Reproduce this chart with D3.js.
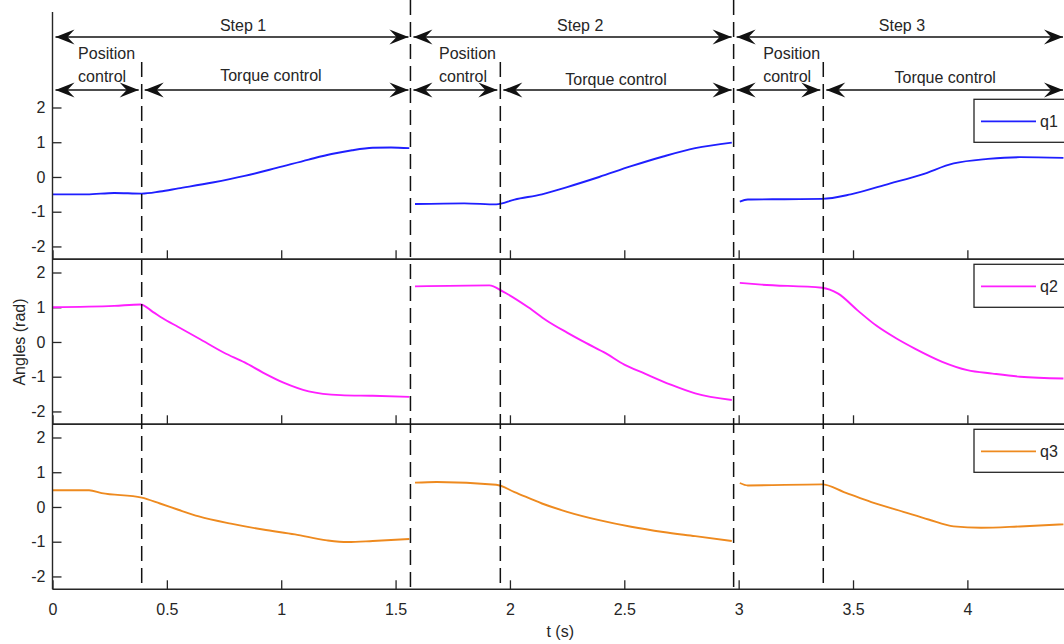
<!DOCTYPE html>
<html>
<head>
<meta charset="utf-8">
<script src="https://cdn.jsdelivr.net/npm/d3@7"></script>
<style>
  html, body { margin: 0; padding: 0; background: #fff; }
  svg { display: block; font-family: "Liberation Sans", Arial, sans-serif; }
</style>
</head>
<body>
<svg id="chart" width="1064" height="644"></svg>
<script>
// Joint angle recordings (t in s, angle in rad), one array per step and joint.
const q1Step1 = [[0,-0.50],[0.15,-0.50],[0.27,-0.46],[0.39,-0.48],[0.47,-0.42],[0.55,-0.33],[0.70,-0.16],[0.84,0.03],[0.98,0.26],[1.12,0.50],[1.22,0.66],[1.31,0.77],[1.40,0.84],[1.48,0.85],[1.56,0.83]];
const q1Step2 = [[1.585,-0.78],[1.80,-0.76],[1.94,-0.79],[2.02,-0.65],[2.14,-0.50],[2.25,-0.29],[2.39,0.00],[2.53,0.31],[2.67,0.59],[2.81,0.83],[2.97,0.99]];
const q1Step3 = [[3.005,-0.71],[3.04,-0.65],[3.20,-0.64],[3.365,-0.63],[3.49,-0.50],[3.66,-0.19],[3.80,0.07],[3.94,0.39],[4.09,0.52],[4.23,0.57],[4.42,0.55]];

const q2Step1 = [[0,1.00],[0.27,1.04],[0.385,1.08],[0.44,0.86],[0.48,0.69],[0.55,0.43],[0.64,0.10],[0.75,-0.31],[0.84,-0.59],[0.92,-0.88],[1.01,-1.17],[1.12,-1.42],[1.26,-1.53],[1.40,-1.55],[1.56,-1.58]];
const q2Step2 = [[1.585,1.60],[1.91,1.63],[1.97,1.45],[2.08,1.00],[2.16,0.62],[2.25,0.27],[2.33,-0.02],[2.42,-0.33],[2.50,-0.65],[2.59,-0.91],[2.70,-1.22],[2.81,-1.48],[2.97,-1.67]];
const q2Step3 = [[3.005,1.70],[3.10,1.65],[3.365,1.56],[3.435,1.39],[3.52,0.91],[3.60,0.48],[3.69,0.10],[3.77,-0.19],[3.89,-0.57],[4.00,-0.81],[4.11,-0.91],[4.23,-1.00],[4.42,-1.05]];

const q3Step1 = [[0,0.48],[0.16,0.48],[0.215,0.40],[0.39,0.27],[0.47,0.10],[0.55,-0.08],[0.64,-0.27],[0.78,-0.48],[0.92,-0.65],[1.06,-0.79],[1.20,-0.96],[1.29,-1.01],[1.40,-0.98],[1.56,-0.92]];
const q3Step2 = [[1.585,0.70],[1.68,0.72],[1.94,0.64],[2.02,0.43],[2.14,0.10],[2.25,-0.14],[2.39,-0.38],[2.53,-0.57],[2.67,-0.72],[2.81,-0.84],[2.97,-0.98]];
const q3Step3 = [[3.005,0.69],[3.04,0.62],[3.365,0.65],[3.46,0.43],[3.58,0.14],[3.72,-0.14],[3.83,-0.36],[3.94,-0.56],[4.06,-0.60],[4.23,-0.56],[4.42,-0.50]];

// Phase boundaries (s): start of each step, and switch from position to torque control.
const stepStarts = [0, 1.565, 2.978];
const stepEnds = [1.565, 2.978, 4.45];
const switchTimes = [0.39, 1.958, 3.37];
const stepLabels = ["Step 1", "Step 2", "Step 3"];
const stepLabelTimes = [0.833, 2.307, 3.714];
const positionLabelTimes = [0.112, 1.69, 3.107];
const torqueLabelTimes = [0.955, 2.464, 3.903];

const seriesNames = ["q1", "q2", "q3"];
const seriesColors = ["#1f1fff", "#ff1fff", "#ee8a1f"];
const seriesSegments = [
  [q1Step1, q1Step2, q1Step3],
  [q2Step1, q2Step2, q2Step3],
  [q3Step1, q3Step2, q3Step3]
];

const xTicks = [0, 0.5, 1, 1.5, 2, 2.5, 3, 3.5, 4];
const yTicks = [-2, -1, 0, 1, 2];
const xDomain = [0, 4.45];
const yDomain = [-2.37, 2.38];

// ---- layout ----
const ink = "#262626";
const svg = d3.select("#chart");
const left = 52.5, right = 1070.3;
const panelTops = [94.3, 259.3, 424.3];
const panelH = 165;
const plotBottom = panelTops[2] + panelH;

const x = d3.scaleLinear().domain(xDomain).range([left, right]);

// arrowhead marker
const defs = svg.append("defs");
defs.append("marker")
  .attr("id", "head")
  .attr("markerUnits", "userSpaceOnUse")
  .attr("viewBox", "-20 -8 21 16")
  .attr("refX", 0).attr("refY", 0)
  .attr("markerWidth", 21).attr("markerHeight", 16)
  .attr("orient", "auto-start-reverse")
  .append("path")
  .attr("d", "M0,0 L-19,-7.5 Q-14,-2 -12,0 Q-14,2 -19,7.5 Z")
  .attr("fill", "#111");

defs.append("clipPath").attr("id", "plotclip")
  .append("rect").attr("x", left).attr("y", 0).attr("width", right - left).attr("height", plotBottom);

// ---- panels ----
panelTops.forEach((top, i) => {
  const y = d3.scaleLinear().domain(yDomain).range([top + panelH, top]);
  const g = svg.append("g");

  // frame: top and bottom edges
  if (i > 0) {
    g.append("line").attr("x1", left).attr("x2", right).attr("y1", top).attr("y2", top)
      .attr("stroke", ink).attr("stroke-width", 1.4);
  }
  g.append("line").attr("x1", left).attr("x2", right).attr("y1", top + panelH).attr("y2", top + panelH)
    .attr("stroke", ink).attr("stroke-width", 1.4);

  // y axis with inward ticks
  const yAxis = d3.axisLeft(y).tickValues(yTicks).tickSize(-9).tickPadding(7).tickFormat(d => String(d));
  const ya = g.append("g").attr("transform", `translate(${left},0)`).call(yAxis);
  ya.select(".domain").remove();
  ya.selectAll(".tick line").attr("stroke", ink).attr("stroke-width", 1.3);
  ya.selectAll(".tick text").attr("fill", ink).attr("font-size", 16)
    .attr("font-family", "Liberation Sans, Arial, sans-serif");

  // x axis with inward ticks
  const xAxis = d3.axisBottom(x).tickValues(xTicks).tickSize(-9).tickPadding(14)
    .tickFormat(d => String(d));
  const xa = g.append("g").attr("transform", `translate(0,${top + panelH})`).call(xAxis);
  xa.select(".domain").remove();
  xa.selectAll(".tick line").attr("stroke", ink).attr("stroke-width", 1.3);
  if (i < 2) {
    xa.selectAll(".tick text").remove();
  } else {
    xa.selectAll(".tick text").attr("fill", ink).attr("font-size", 16)
      .attr("font-family", "Liberation Sans, Arial, sans-serif");
  }

  // data
  const line = d3.line().x(d => x(d[0])).y(d => y(d[1])).curve(d3.curveMonotoneX);
  g.append("g").attr("clip-path", "url(#plotclip)")
    .selectAll("path").data(seriesSegments[i]).join("path")
    .attr("d", line)
    .attr("fill", "none")
    .attr("stroke", seriesColors[i])
    .attr("stroke-width", 1.9)
    .attr("stroke-linejoin", "round");

  // legend
  const lx = 974, ly = top + 5, lw = 110, lh = 43;
  const lg = g.append("g");
  lg.append("rect").attr("x", lx).attr("y", ly).attr("width", lw).attr("height", lh)
    .attr("fill", "#fff").attr("stroke", ink).attr("stroke-width", 1.3);
  lg.append("line").attr("x1", lx + 7).attr("x2", lx + 62).attr("y1", ly + 22).attr("y2", ly + 22)
    .attr("stroke", seriesColors[i]).attr("stroke-width", 1.8);
  lg.append("text").attr("x", lx + 66).attr("y", ly + 28)
    .attr("font-size", 16).attr("fill", ink).text(seriesNames[i]);
});

// left axis spine, extended up through the annotation area
svg.append("line").attr("x1", left).attr("x2", left).attr("y1", 12).attr("y2", plotBottom)
  .attr("stroke", ink).attr("stroke-width", 1.4);

// phase boundaries
const dash = svg.append("g").attr("stroke", "#111").attr("stroke-width", 1.5).attr("stroke-dasharray", "15,7");
dash.selectAll("line.step").data(stepStarts.slice(1)).join("line").attr("class", "step")
  .attr("x1", d => x(d)).attr("x2", d => x(d)).attr("y1", 0).attr("y2", plotBottom);
dash.selectAll("line.switch").data(switchTimes).join("line").attr("class", "switch")
  .attr("x1", d => x(d)).attr("x2", d => x(d)).attr("y1", 62).attr("y2", plotBottom);

// phase arrows
const arrows = svg.append("g").attr("stroke", "#111").attr("stroke-width", 1.4)
  .attr("marker-start", "url(#head)").attr("marker-end", "url(#head)");
stepStarts.forEach((s, i) => {
  const e = Math.min(x(stepEnds[i]) - 2, 1063);
  arrows.append("line").attr("x1", x(s) + 3).attr("x2", e).attr("y1", 37).attr("y2", 37);
  arrows.append("line").attr("x1", x(s) + 3).attr("x2", x(switchTimes[i]) - 3).attr("y1", 90).attr("y2", 90);
  arrows.append("line").attr("x1", x(switchTimes[i]) + 3).attr("x2", e).attr("y1", 90).attr("y2", 90);
});

// annotation text
const ann = svg.append("g").attr("fill", ink).attr("font-size", 16);
stepLabels.forEach((lab, i) => {
  ann.append("text").attr("x", x(stepLabelTimes[i])).attr("y", 31).attr("text-anchor", "middle").text(lab);
  ann.append("text").attr("x", x(positionLabelTimes[i])).attr("y", 59).text("Position");
  ann.append("text").attr("x", x(positionLabelTimes[i])).attr("y", 82).text("control");
  ann.append("text").attr("x", x(torqueLabelTimes[i])).attr("y", [81, 85, 83][i])
    .attr("text-anchor", "middle").text("Torque control");
});

// axis titles
svg.append("text").attr("x", x(2.22)).attr("y", 637).attr("text-anchor", "middle")
  .attr("font-size", 16).attr("fill", ink).text("t (s)");
svg.append("text").attr("transform", "translate(25,342) rotate(-90)").attr("text-anchor", "middle")
  .attr("font-size", 16).attr("fill", ink).text("Angles (rad)");
</script>
</body>
</html>
